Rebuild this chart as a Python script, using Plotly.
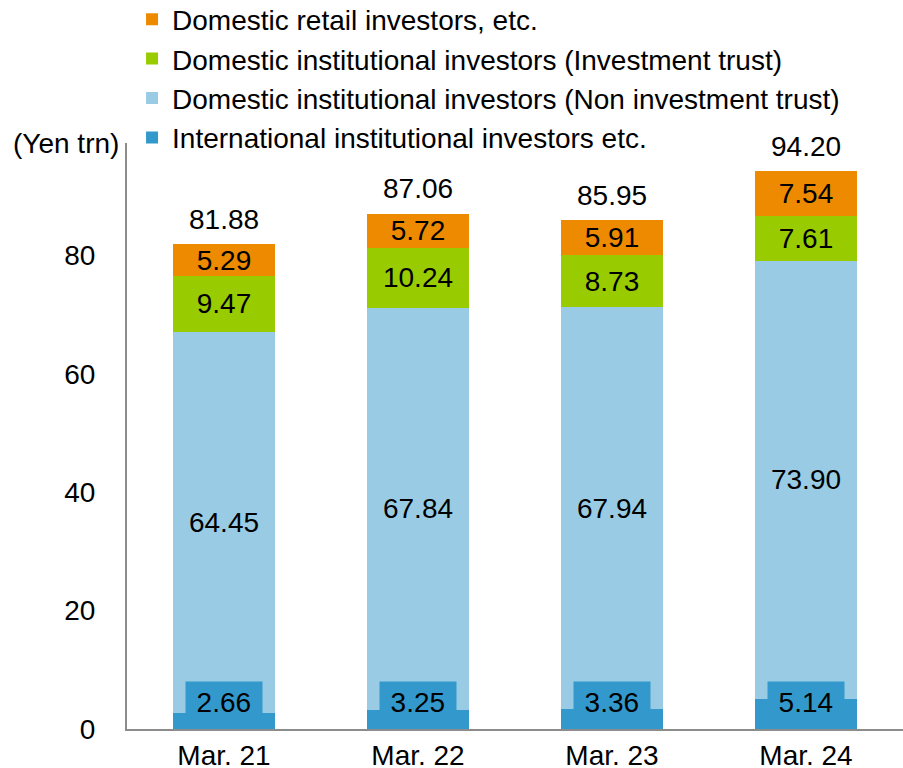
import plotly.graph_objects as go

categories = ["Mar. 21", "Mar. 22", "Mar. 23", "Mar. 24"]
international = [2.66, 3.25, 3.36, 5.14]
non_inv_trust = [64.45, 67.84, 67.94, 73.90]
inv_trust = [9.47, 10.24, 8.73, 7.61]
retail = [5.29, 5.72, 5.91, 7.54]
totals = [81.88, 87.06, 85.95, 94.20]

FONT = "Liberation Sans, Arial, sans-serif"
FS = 28

series = [
    ("International institutional investors etc.", international, "#3399cc", False),
    ("Domestic institutional investors (Non investment trust)", non_inv_trust, "#99cce4", True),
    ("Domestic institutional investors (Investment trust)", inv_trust, "#99cc00", True),
    ("Domestic retail investors, etc.", retail, "#ee8a00", True),
]

fig = go.Figure()
for name, vals, color, show_text in series:
    fig.add_trace(go.Bar(
        x=categories, y=vals, name=name,
        marker=dict(color=color, line=dict(width=0)),
        text=[f"{v:.2f}" for v in vals] if show_text else None,
        textposition="inside" if show_text else "none",
        insidetextanchor="middle",
        textangle=0,
        constraintext="none",
        textfont=dict(color="black", size=FS, family=FONT),
        hoverinfo="skip",
    ))

annotations = []
for c, t in zip(categories, totals):
    annotations.append(dict(x=c, y=t, text=f"{t:.2f}", showarrow=False,
                            yanchor="middle", yshift=25,
                            font=dict(size=FS, color="black", family=FONT)))
for c, v in zip(categories, international):
    annotations.append(dict(x=c, y=4.4, text=f"\u2009{v:.2f}\u2009", showarrow=False,
                            yanchor="middle", bgcolor="#3399cc", borderpad=5,
                            font=dict(size=FS, color="black", family=FONT)))
annotations.append(dict(xref="paper", yref="paper", x=-0.008, y=1.0, text="(Yen trn)",
                        showarrow=False, xanchor="right", yanchor="middle",
                        font=dict(size=FS, color="black", family=FONT)))

fig.update_layout(
    width=903, height=768,
    barmode="stack", bargap=0.47,
    plot_bgcolor="white", paper_bgcolor="white",
    margin=dict(l=127, r=0, t=143, b=39, autoexpand=False),
    font=dict(family=FONT, size=FS, color="black"),
    showlegend=True,
    legend=dict(traceorder="reversed", xref="paper", yref="paper",
                x=0.0065, y=1.2534, xanchor="left", yanchor="top",
                font=dict(size=FS, family=FONT, color="black"),
                itemclick=False, tracegroupgap=0, bgcolor="rgba(0,0,0,0)"),
    annotations=annotations,
)
fig.update_xaxes(showline=True, linecolor="#8c8c8c", linewidth=2, ticks="",
                 showgrid=False, automargin=False,
                 tickfont=dict(size=FS, family=FONT, color="black"))
fig.update_yaxes(range=[0, 99], tickvals=[0, 20, 40, 60, 80], showline=True,
                 linecolor="#8c8c8c", linewidth=2, ticks="", showgrid=False,
                 zeroline=False, automargin=False, ticklabelstandoff=24,
                 tickfont=dict(size=FS, family=FONT, color="black"))

fig.write_html("out.html", config={"displayModeBar": False},
               post_script="document.body.style.margin='0';document.body.style.overflow='hidden';")
